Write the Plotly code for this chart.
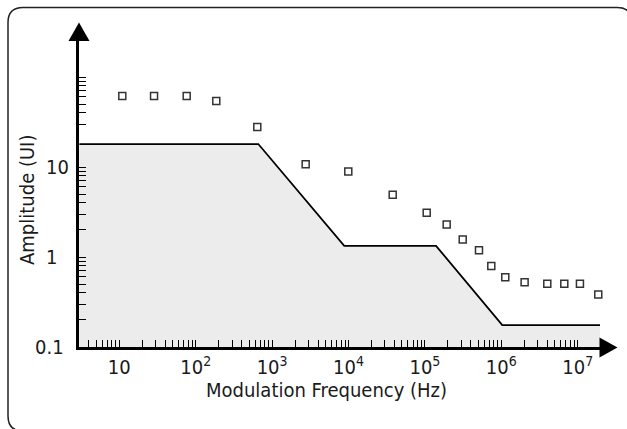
import plotly.graph_objects as go

# ---------------- data ----------------
mask_freq = [3, 660, 8800, 1.4e5, 1.03e6, 2e7]
mask_amp = [18, 18, 1.33, 1.33, 0.175, 0.175]

meas_freq = [10.95, 28.5, 76.2, 186, 640, 2750, 9940, 37900, 105600, 192800,
             312600, 510600, 740000, 1.128e6, 2.02e6, 4.0e6, 6.68e6, 1.07e7, 1.86e7]
meas_amp = [61.5, 61.5, 61.5, 54.1, 27.8, 10.7, 8.9, 4.93, 3.11, 2.29,
            1.56, 1.19, 0.794, 0.595, 0.524, 0.506, 0.506, 0.506, 0.382]

baseline_amp = [0.1, 0.1]

x_tick_vals = ([d for d in range(4, 10)] +
               [d * 10 ** k for k in range(1, 7) for d in range(1, 10)] + [1e7])
x_major = {10: "10", 100: "10<sup>2</sup>", 1000: "10<sup>3</sup>", 10000: "10<sup>4</sup>",
           100000: "10<sup>5</sup>", 1000000: "10<sup>6</sup>", 10000000: "10<sup>7</sup>"}
y_tick_vals = ([d / 10 for d in range(2, 10)] + [d for d in range(1, 10)] +
               [10] + [d * 10 for d in range(3, 11)])
y_major = {1: "1\u2007", 10: "10"}
y_min_label = "0.1"

FONT = "DejaVu Sans Condensed, Liberation Sans Narrow, Roboto Condensed, Arial Narrow, sans-serif"
FS = 20
TXT = "#1a1a1a"

# ---------------- geometry helpers (pixel -> paper) ----------------
W, H = 627, 429
L, R, T, B = 79, 600, 40, 347


def px(x):
    return (x - L) / (R - L)


def py(y):
    return (B - y) / (B - T)


fig = go.Figure()

fig.add_trace(go.Scatter(x=[mask_freq[0], mask_freq[-1]], y=baseline_amp, mode="lines",
                         line=dict(width=0, color="rgba(0,0,0,0)"), showlegend=False,
                         hoverinfo="skip"))
fig.add_trace(go.Scatter(x=mask_freq, y=mask_amp, mode="lines", fill="tonexty",
                         fillcolor="#ececec", line=dict(color="black", width=1.8),
                         showlegend=False))
fig.add_trace(go.Scatter(x=meas_freq, y=meas_amp, mode="markers",
                         marker=dict(symbol="square-open", size=7,
                                     line=dict(color="#333333", width=1.5), color="#333333"),
                         cliponaxis=False, showlegend=False))

x_text = [x_major.get(int(round(v)), "") for v in x_tick_vals]
y_text = [y_major.get(v, "") for v in y_tick_vals]

fig.update_xaxes(type="log", range=[0.4725, 7.292], showline=True, linewidth=3,
                 linecolor="black", ticks="inside", ticklen=7, tickwidth=1, tickcolor="black",
                 tickvals=x_tick_vals, ticktext=x_text, showgrid=False, zeroline=False,
                 tickfont=dict(family=FONT, size=FS, color=TXT))
fig.update_yaxes(type="log", range=[-1, -1 + (B - T) / 90.0], showline=True, linewidth=3,
                 linecolor="black", ticks="inside", ticklen=7, tickwidth=1, tickcolor="black",
                 tickvals=y_tick_vals, ticktext=y_text, showgrid=False, zeroline=False,
                 ticklabelstandoff=3,
                 tickfont=dict(family=FONT, size=FS, color=TXT))

# frame with rounded corners (open on the right/bottom, which fall outside the picture)
r = 15
bx0, bx1, by0, by1 = 8, 632, 7.5, 431
path = (f"M {px(bx0 + r)},{py(by1)} Q {px(bx0)},{py(by1)} {px(bx0)},{py(by1 - r)} "
        f"L {px(bx0)},{py(by0 + r)} Q {px(bx0)},{py(by0)} {px(bx0 + r)},{py(by0)} "
        f"L {px(bx1 - r)},{py(by0)} Q {px(bx1)},{py(by0)} {px(bx1)},{py(by0 + r)}")
fig.add_shape(type="path", xref="paper", yref="paper", path=path,
              line=dict(color="#222222", width=1.5), fillcolor="rgba(0,0,0,0)", layer="below")

# arrow heads
up = (f"M {px(79)},{py(22.5)} L {px(68.5)},{py(41)} L {px(89.5)},{py(41)} Z")
right = (f"M {px(617.5)},{py(347.5)} L {px(599.5)},{py(337.5)} L {px(599.5)},{py(357.5)} Z")
for p in (up, right):
    fig.add_shape(type="path", xref="paper", yref="paper", path=p,
                  line=dict(color="black", width=0), fillcolor="black", layer="above")

# lowest y label (on the x axis line)
fig.add_annotation(x=px(66), y=py(347), xref="paper", yref="paper", text=y_min_label,
                   showarrow=False, xanchor="right", yanchor="middle",
                   font=dict(family=FONT, size=FS, color=TXT))

# axis titles
fig.add_annotation(x=px(326.7), y=py(390), xref="paper", yref="paper",
                   text="Modulation Frequency (Hz)", showarrow=False,
                   xanchor="center", yanchor="middle",
                   font=dict(family=FONT, size=FS, color=TXT))
fig.add_annotation(x=px(27), y=py(200), xref="paper", yref="paper",
                   text="Amplitude (UI)", showarrow=False, textangle=-90,
                   xanchor="center", yanchor="middle",
                   font=dict(family=FONT, size=FS, color=TXT))

fig.update_layout(width=W, height=H, margin=dict(l=L, r=W - R, t=T, b=H - B),
                  plot_bgcolor="white", paper_bgcolor="white", showlegend=False)

fig.write_html("out.html", config={"displayModeBar": False},
               post_script="document.body.style.margin='0';document.body.style.overflow='hidden';")
